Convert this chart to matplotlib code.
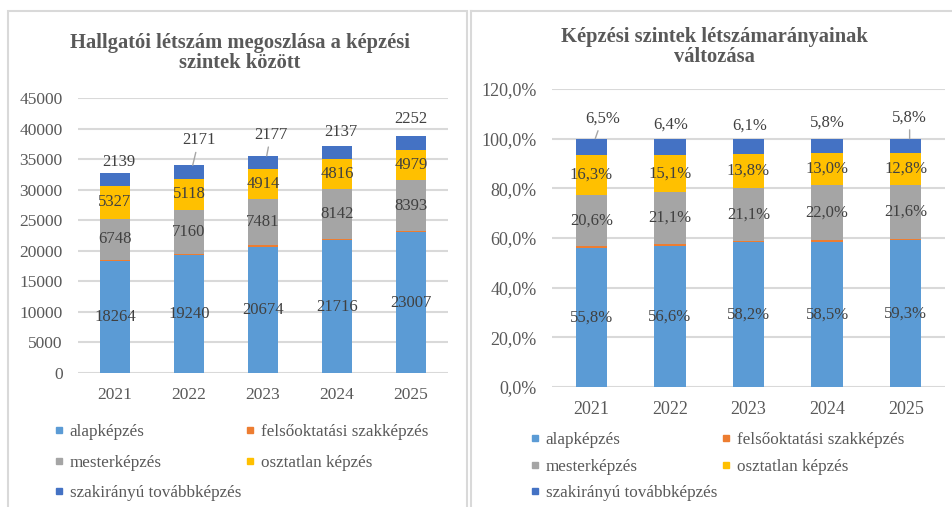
import matplotlib.pyplot as plt
from matplotlib.lines import Line2D
from matplotlib.patches import Rectangle
import numpy as np

plt.rcParams['font.family'] = ['Liberation Serif', 'DejaVu Serif']

years = ['2021', '2022', '2023', '2024', '2025']
series_names = ['alapképzés', 'felsőoktatási szakképzés', 'mesterképzés',
                'osztatlan képzés', 'szakirányú továbbképzés']
alapkepzes  = [18264, 19240, 20674, 21716, 23007]
felsooktat  = [260, 300, 280, 281, 170]      # not labelled, estimated
mesterkepz  = [6748, 7160, 7481, 8142, 8393]
osztatlan   = [5327, 5118, 4914, 4816, 4979]
szakiranyu  = [2139, 2171, 2177, 2137, 2252]

colors = ['#5B9BD5', '#ED7D31', '#A5A5A5', '#FFC000', '#4472C4']
GRID = '#D9D9D9'
TICK = '#595959'
LABEL = '#404040'

counts = np.array([alapkepzes, felsooktat, mesterkepz, osztatlan, szakiranyu], dtype=float)
shares = counts / counts.sum(axis=0) * 100

W, H = 952, 507
fig = plt.figure(figsize=(W / 100, H / 100), dpi=100)

def frac(x0, y0, x1, y1):
    # pixel box (top-left origin) -> figure fraction rect
    return [x0 / W, 1 - y1 / H, (x1 - x0) / W, (y1 - y0) / H]

# panel frames
fig.add_artist(Rectangle((8 / W, -0.05), (467 - 8) / W, 1.05 - 11 / H, transform=fig.transFigure,
                         fill=False, edgecolor=GRID, lw=1.5))
fig.add_artist(Line2D([471 / W, 471 / W], [0, 1 - 11 / H], transform=fig.transFigure, color=GRID, lw=1.5))
fig.add_artist(Line2D([471 / W, 1], [1 - 11 / H, 1 - 11 / H], transform=fig.transFigure, color=GRID, lw=1.5))

def style_axes(ax, size):
    for s in ax.spines.values():
        s.set_visible(False)
    ax.tick_params(axis='y', length=0, labelsize=size, colors=TICK, pad=11)
    ax.tick_params(axis='x', length=0, labelsize=size, colors=TICK, pad=10)
    ax.yaxis.grid(True, color=GRID, lw=1.5)
    ax.set_axisbelow(True)

def draw_stack(ax, data, fmt, top_offsets, leaders):
    x = np.arange(len(years))
    bottom = np.zeros(len(years))
    for k, vals in enumerate(data):
        ax.bar(x, vals, 0.4, bottom=bottom, color=colors[k], zorder=2)
        if k in (0, 2, 3):
            for i, v in enumerate(vals):
                ax.text(x[i], bottom[i] + v / 2, fmt(v), ha='center', va='center',
                        fontsize=12, color=LABEL, zorder=3)
        bottom = bottom + vals
    # top segment labels, placed above the bars
    for i, v in enumerate(data[-1]):
        dx, dy = top_offsets[i]
        ap = dict(arrowstyle='-', color='#A6A6A6', lw=1, shrinkA=1, shrinkB=0) if leaders[i] else None
        ax.annotate(fmt(v), xy=(x[i] + (0.05 if leaders[i] else 0), bottom[i]), xytext=(dx, dy),
                    textcoords='offset pixels', ha='center', va='bottom',
                    fontsize=12, color=LABEL, arrowprops=ap, zorder=3)
    ax.set_xticks(x)
    ax.set_xticklabels(years)
    ax.set_xlim(-0.5, len(years) - 0.5)

# left chart
ax1 = fig.add_axes(frac(78, 98, 448, 373))
style_axes(ax1, 12.5)
draw_stack(ax1, counts, lambda v: f"{v:.0f}",
           [(4, 3), (6, 17), (4, 13), (4, 6), (0, 9)],
           [False, True, True, False, False])
ax1.set_ylim(0, 45000)
ax1.set_yticks(np.arange(0, 45001, 5000))
fig.text(240 / W, 1 - 53 / H, 'Hallgatói létszám megoszlása a képzési\nszintek között',
         ha='center', va='center', fontsize=14.8, fontweight='bold', color=TICK, linespacing=1.0)

# right chart
ax2 = fig.add_axes(frac(552, 89, 945, 387))
style_axes(ax2, 13)
draw_stack(ax2, shares, lambda v: f"{v:.1f}%".replace('.', ','),
           [(7, 12), (1, 6), (1, 5), (0, 8), (0, 13)],
           [True, False, False, False, True])
ax2.set_ylim(0, 120)
ax2.set_yticks(np.arange(0, 121, 20))
ax2.set_yticklabels([f"{t:.1f}%".replace('.', ',') for t in np.arange(0, 121, 20)])
fig.text(714 / W, 1 - 47 / H, 'Képzési szintek létszámarányainak\nváltozása',
         ha='center', va='center', fontsize=14.8, fontweight='bold', color=TICK, linespacing=1.0)

# legends (row-major order like the original)
handles = [Line2D([0], [0], marker='s', color='w', markerfacecolor=c, markeredgecolor=c,
                  markersize=5, label=n) for c, n in zip(colors, series_names)]
order = [0, 2, 4, 1, 3]
for bx, by, sp in [(55, 424, 0.86), (531, 432, 0.62)]:
    fig.legend([handles[i] for i in order], [series_names[i] for i in order],
               loc='upper left', bbox_to_anchor=(bx / W, 1 - by / H), ncol=2, frameon=False,
               fontsize=12.3, labelcolor=TICK, handlelength=0.5, handletextpad=0.35,
               columnspacing=0.3, labelspacing=sp, borderaxespad=0, borderpad=0)

fig.savefig('out.png', dpi=100)
